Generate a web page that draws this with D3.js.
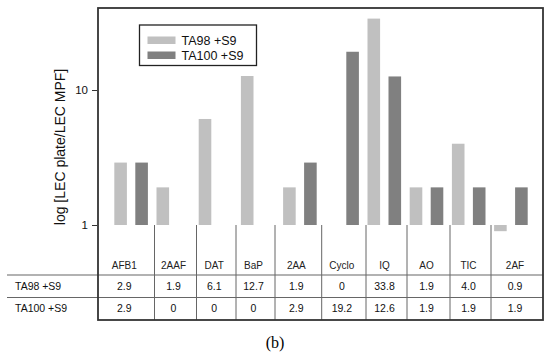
<!DOCTYPE html>
<html>
<head>
<meta charset="utf-8">
<script src="https://cdn.jsdelivr.net/npm/d3@7"></script>
<style>
  body { margin: 0; background: #fff; }
  svg { display: block; font-family: Arial, "Liberation Sans", sans-serif; }
</style>
</head>
<body>
<svg width="550" height="354"></svg>
<script>
// data
var categories = ["AFB1", "2AAF", "DAT", "BaP", "2AA", "Cyclo", "IQ", "AO", "TIC", "2AF"];
var seriesNames = ["TA98 +S9", "TA100 +S9"];
var ta98 = [2.9, 1.9, 6.1, 12.7, 1.9, 0, 33.8, 1.9, 4.0, 0.9];
var ta100 = [2.9, 0, 0, 0, 2.9, 19.2, 12.6, 1.9, 1.9, 1.9];
var ta98Labels = ["2.9", "1.9", "6.1", "12.7", "1.9", "0", "33.8", "1.9", "4.0", "0.9"];
var ta100Labels = ["2.9", "0", "0", "0", "2.9", "19.2", "12.6", "1.9", "1.9", "1.9"];
var yTicks = [1, 10];
var yLabel = "log [LEC plate/LEC MPF]";

var colors = ["#c0c0c0", "#808080"];

var svg = d3.select("svg"),
    frame = {left: 98, top: 8, right: 543, bottom: 320};

// table columns are not evenly spaced in the original
var colEdges = [98, 154.5, 196.5, 236, 275, 321.7, 366, 407, 450, 491, 543];

var x0 = d3.scaleBand()
    .domain(categories)
    .range([110, 532]);

var x1 = d3.scaleBand()
    .domain(seriesNames)
    .range([x0.bandwidth() / 2 - 21, x0.bandwidth() / 2 + 21])
    .paddingInner(0.4)
    .paddingOuter(0.2);

var y = d3.scaleLog()
    .domain([1, 10])
    .range([225, 90]);

var rows = categories.map(function(c, i) {
    return {cat: c, values: [ta98[i], ta100[i]]};
});

// bars
var groups = svg.append("g")
    .selectAll("g")
    .data(rows)
    .enter().append("g")
    .attr("transform", function(d) { return "translate(" + x0(d.cat) + ",0)"; });

groups.selectAll("rect")
    .data(function(d) {
        return d.values.map(function(v, j) { return {name: seriesNames[j], v: v, j: j}; })
            .filter(function(e) { return e.v > 0; });
    })
    .enter().append("rect")
    .attr("x", function(d) { return x1(d.name); })
    .attr("width", x1.bandwidth())
    .attr("y", function(d) { return Math.min(y(d.v), y(1)); })
    .attr("height", function(d) { return Math.abs(y(1) - y(d.v)); })
    .style("fill", function(d) { return colors[d.j]; });

// y axis
var yAxis = svg.append("g")
    .attr("transform", "translate(" + (frame.left - 1) + ",0)")
    .call(d3.axisLeft(y).tickValues(yTicks).tickFormat(d3.format("d")).tickSize(5).tickPadding(4));
yAxis.select(".domain").remove();
yAxis.selectAll("line").attr("stroke", "#333");
yAxis.selectAll("text").style("font-size", "11.5px").style("font-family", "Arial, 'Liberation Sans', sans-serif").attr("fill", "#111");

svg.append("text")
    .attr("transform", "translate(65,147) rotate(-90)")
    .attr("text-anchor", "middle")
    .style("font-size", "14px")
    .attr("fill", "#111")
    .text(yLabel);

// table lines
var tableLine = "#666";
svg.append("g")
    .selectAll("line")
    .data(colEdges.slice(1, -1))
    .enter().append("line")
    .attr("x1", function(d) { return d; })
    .attr("x2", function(d) { return d; })
    .attr("y1", y(1))
    .attr("y2", frame.bottom)
    .attr("stroke", tableLine)
    .attr("stroke-width", 1);

[275, 297.5].forEach(function(ly) {
    svg.append("line")
        .attr("x1", 7).attr("x2", frame.right)
        .attr("y1", ly).attr("y2", ly)
        .attr("stroke", tableLine)
        .attr("stroke-width", 1.2);
});

// table text
function colCenter(i) { return (colEdges[i] + colEdges[i + 1]) / 2; }

svg.append("g")
    .selectAll("text")
    .data(categories)
    .enter().append("text")
    .attr("x", function(d, i) { return colCenter(i) - 2; })
    .attr("y", 269)
    .attr("text-anchor", "middle")
    .style("font-size", "10px")
    .attr("fill", "#222")
    .text(function(d) { return d; });

[[ta98Labels, 289.5], [ta100Labels, 311.5]].forEach(function(r) {
    svg.append("g")
        .selectAll("text")
        .data(r[0])
        .enter().append("text")
        .attr("x", function(d, i) { return colCenter(i) - 2; })
        .attr("y", r[1])
        .attr("text-anchor", "middle")
        .style("font-size", "10.5px")
        .attr("fill", "#111")
        .text(function(d) { return d; });
});

svg.append("g")
    .selectAll("text")
    .data(seriesNames)
    .enter().append("text")
    .attr("x", 15)
    .attr("y", function(d, i) { return i ? 311.5 : 289.5; })
    .style("font-size", "10.5px")
    .attr("fill", "#111")
    .text(function(d) { return d; });

// frame
svg.append("rect")
    .attr("x", frame.left)
    .attr("y", frame.top)
    .attr("width", frame.right - frame.left)
    .attr("height", frame.bottom - frame.top)
    .attr("fill", "none")
    .attr("stroke", "#333")
    .attr("stroke-width", 1.8);

// legend
var legend = svg.append("g").attr("transform", "translate(139.5,25)");
legend.append("rect")
    .attr("width", 117)
    .attr("height", 40.5)
    .attr("fill", "#fff")
    .attr("stroke", "#222")
    .attr("stroke-width", 1.3);
var li = legend.selectAll("g.item")
    .data(seriesNames)
    .enter().append("g")
    .attr("class", "item")
    .attr("transform", function(d, i) { return "translate(8," + (11.5 + i * 15) + ")"; });
li.append("rect")
    .attr("width", 28)
    .attr("height", 7.5)
    .style("fill", function(d, i) { return colors[i]; });
li.append("text")
    .attr("x", 34)
    .attr("y", 8.5)
    .style("font-size", "12.5px")
    .attr("fill", "#111")
    .text(function(d) { return d; });

// panel label
svg.append("text")
    .attr("x", 275)
    .attr("y", 348)
    .attr("text-anchor", "middle")
    .style("font-family", "'Liberation Serif', 'Times New Roman', serif")
    .style("font-size", "16px")
    .attr("fill", "#000")
    .text("(b)");
</script>
</body>
</html>
